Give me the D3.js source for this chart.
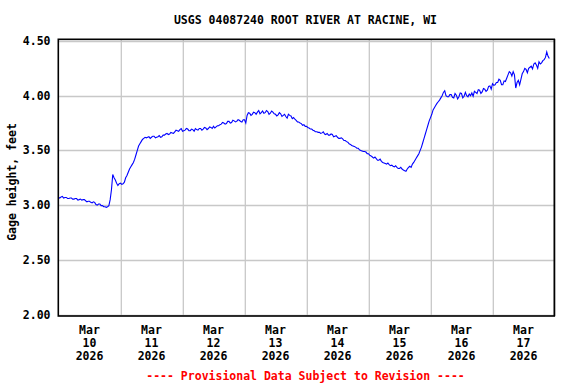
<!DOCTYPE html>
<html>
<head>
<meta charset="utf-8">
<script src="https://cdn.jsdelivr.net/npm/d3@7"></script>
<style>
  html, body { margin: 0; padding: 0; background: #ffffff; }
  svg text { font-family: "DejaVu Sans Mono", "Liberation Mono", monospace; font-weight: bold; }
</style>
</head>
<body>
<svg id="chart" width="576" height="384"></svg>
<script>
// ---- data ----
const chartTitle = "USGS 04087240 ROOT RIVER AT RACINE, WI";
const yAxisTitle = "Gage height, feet";
const footerText = "---- Provisional Data Subject to Revision ----";
const startTime = Date.UTC(2026, 2, 10, 0, 0);   // Mar 10 2026 00:00
const stepHours = 0.5;
// Half-hourly gage height readings (feet) starting Mar 10 00:00
const gageHeight = [
  3.07, 3.065, 3.075, 3.08, 3.065, 3.07, 3.07, 3.06, 3.06, 3.065, 3.065, 3.055, 3.055, 3.06, 3.06, 3.045, 3.05, 3.055, 3.045, 3.05,
  3.05, 3.04, 3.03, 3.035, 3.035, 3.025, 3.02, 3.03, 3.025, 3.005, 3.00, 3.01, 3.01, 2.995, 2.995, 2.985, 2.985, 2.98, 2.985, 2.995,
  3.05, 3.14, 3.28, 3.25, 3.23, 3.20, 3.18, 3.195, 3.20, 3.19, 3.195, 3.21, 3.25, 3.27, 3.30, 3.33, 3.35, 3.37, 3.39, 3.42,
  3.46, 3.50, 3.54, 3.56, 3.58, 3.60, 3.61, 3.62, 3.615, 3.62, 3.625, 3.61, 3.62, 3.63, 3.63, 3.615, 3.62, 3.625, 3.635, 3.62,
  3.625, 3.64, 3.64, 3.65, 3.655, 3.645, 3.65, 3.665, 3.66, 3.655, 3.67, 3.685, 3.68, 3.675, 3.69, 3.70, 3.675, 3.68, 3.685, 3.70,
  3.695, 3.68, 3.68, 3.695, 3.69, 3.675, 3.70, 3.69, 3.685, 3.70, 3.70, 3.685, 3.695, 3.71, 3.705, 3.69, 3.70, 3.715, 3.71, 3.70,
  3.72, 3.705, 3.715, 3.725, 3.725, 3.735, 3.74, 3.755, 3.75, 3.74, 3.745, 3.765, 3.765, 3.75, 3.755, 3.775, 3.77, 3.76, 3.765, 3.78,
  3.775, 3.765, 3.76, 3.78, 3.78, 3.75, 3.82, 3.845, 3.84, 3.82, 3.83, 3.85, 3.845, 3.83, 3.85, 3.865, 3.835, 3.845, 3.86, 3.84,
  3.845, 3.865, 3.855, 3.83, 3.84, 3.86, 3.85, 3.835, 3.83, 3.815, 3.825, 3.845, 3.835, 3.81, 3.82, 3.83, 3.81, 3.795, 3.83, 3.82,
  3.815, 3.79, 3.80, 3.785, 3.775, 3.76, 3.76, 3.75, 3.745, 3.73, 3.735, 3.72, 3.72, 3.71, 3.705, 3.695, 3.695, 3.685, 3.68, 3.67,
  3.67, 3.665, 3.665, 3.655, 3.66, 3.67, 3.65, 3.645, 3.655, 3.64, 3.64, 3.65, 3.645, 3.625, 3.63, 3.635, 3.62, 3.61, 3.61, 3.615,
  3.605, 3.59, 3.59, 3.58, 3.575, 3.56, 3.555, 3.545, 3.54, 3.535, 3.53, 3.52, 3.52, 3.505, 3.50, 3.495, 3.49, 3.49, 3.485, 3.47,
  3.47, 3.455, 3.45, 3.44, 3.43, 3.44, 3.425, 3.41, 3.41, 3.42, 3.40, 3.39, 3.385, 3.38, 3.375, 3.385, 3.37, 3.36, 3.365, 3.355,
  3.35, 3.36, 3.345, 3.335, 3.335, 3.345, 3.33, 3.32, 3.315, 3.31, 3.33, 3.345, 3.355, 3.345, 3.375, 3.39, 3.41, 3.43, 3.45, 3.47,
  3.50, 3.53, 3.57, 3.61, 3.65, 3.69, 3.73, 3.77, 3.80, 3.83, 3.87, 3.89, 3.91, 3.93, 3.945, 3.96, 3.98, 4.00, 4.03, 4.045,
  4.00, 3.99, 3.99, 4.01, 4.01, 3.985, 3.98, 4.02, 4.005, 3.97, 3.99, 4.025, 4.02, 3.98, 3.995, 4.03, 4.00, 3.99, 4.015, 4.00,
  4.025, 3.995, 4.04, 4.03, 4.02, 4.055, 4.05, 4.02, 4.035, 4.065, 4.06, 4.04, 4.05, 4.085, 4.09, 4.06, 4.11, 4.095, 4.10, 4.12,
  4.12, 4.15, 4.14, 4.10, 4.10, 4.135, 4.13, 4.16, 4.19, 4.22, 4.21, 4.18, 4.22, 4.19, 4.07, 4.12, 4.14, 4.10, 4.15, 4.20,
  4.22, 4.25, 4.24, 4.21, 4.25, 4.26, 4.27, 4.245, 4.29, 4.30, 4.28, 4.25, 4.31, 4.29, 4.30, 4.32, 4.33, 4.35, 4.40, 4.36, 4.34
];
const yTicks = [2.00, 2.50, 3.00, 3.50, 4.00, 4.50];
const tickMonth = "Mar";
const tickYear = "2026";
const tickDays = [10, 11, 12, 13, 14, 15, 16, 17];

// ---- layout ----
const svg = d3.select("#chart");
const plot = { left: 58.5, right: 554.5, top: 41, bottom: 314.5 };

const x = d3.scaleUtc()
  .domain([new Date(startTime), new Date(Date.UTC(2026, 2, 18, 0, 0))])
  .range([plot.left, plot.right]);
const y = d3.scaleLinear().domain([2, 4.5]).range([plot.bottom, plot.top]);

const points = gageHeight.map((v, i) => ({ t: new Date(startTime + i * stepHours * 3600000), v }));

// grid
const gridColor = "#c8c8c8";
const gy = svg.append("g");
yTicks.forEach(t => {
  gy.append("line")
    .attr("x1", plot.left).attr("x2", plot.right)
    .attr("y1", Math.round(y(t)) + 0.5).attr("y2", Math.round(y(t)) + 0.5)
    .attr("stroke", gridColor).attr("stroke-width", 1.3);
});
const midnights = tickDays.map(d => new Date(Date.UTC(2026, 2, d + 1, 0, 0)));
midnights.forEach(t => {
  gy.append("line")
    .attr("x1", Math.round(x(t)) + 0.3).attr("x2", Math.round(x(t)) + 0.3)
    .attr("y1", 39).attr("y2", 316)
    .attr("stroke", gridColor).attr("stroke-width", 1.3);
});

// line
svg.append("path")
  .datum(points)
  .attr("fill", "none")
  .attr("stroke", "#0000ff")
  .attr("stroke-width", 1.1)
  .attr("d", d3.line().x(d => x(d.t)).y(d => y(d.v)));

// frame
svg.append("rect")
  .attr("x", 58.3).attr("y", 39.3)
  .attr("width", 496).attr("height", 276.7)
  .attr("fill", "none").attr("stroke", "#000").attr("stroke-width", 1.6);

// y tick labels
const fontSize = "11.5px";
yTicks.forEach(t => {
  svg.append("text")
    .attr("x", 50.5).attr("y", y(t) + 4)
    .attr("text-anchor", "end")
    .attr("font-size", fontSize)
    .attr("fill", "#000")
    .text(d3.format(".2f")(t));
});

// x tick labels (at noon)
tickDays.forEach(d => {
  const cx = x(new Date(Date.UTC(2026, 2, d, 12, 0)));
  const g = svg.append("g").attr("font-size", fontSize).attr("text-anchor", "middle").attr("fill", "#000");
  g.append("text").attr("x", cx).attr("y", 334).text(tickMonth);
  g.append("text").attr("x", cx).attr("y", 347).text(String(d));
  g.append("text").attr("x", cx).attr("y", 359.5).text(tickYear);
});

// title
svg.append("text")
  .attr("x", 305.5).attr("y", 24)
  .attr("text-anchor", "middle")
  .attr("font-size", fontSize)
  .text(chartTitle);

// y axis title
svg.append("text")
  .attr("transform", "translate(16,182) rotate(-90)")
  .attr("text-anchor", "middle")
  .attr("font-size", fontSize)
  .text(yAxisTitle);

// footer
svg.append("text")
  .attr("x", 305.5).attr("y", 379.5)
  .attr("text-anchor", "middle")
  .attr("font-size", fontSize)
  .attr("fill", "#ff0000")
  .text(footerText);
</script>
</body>
</html>
